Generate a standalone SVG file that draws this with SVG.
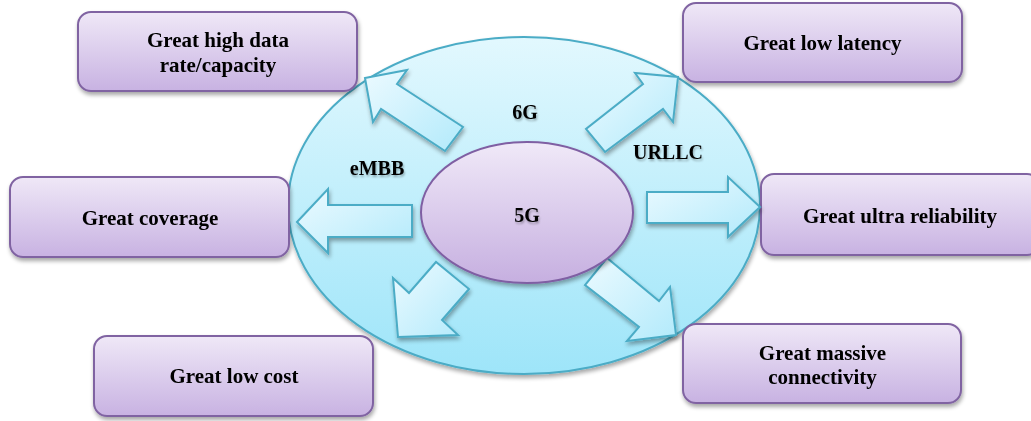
<svg xmlns="http://www.w3.org/2000/svg" width="1031" height="421" viewBox="0 0 1031 421">
<defs>
<linearGradient id="gBox" x1="0" y1="0" x2="0" y2="1">
<stop offset="0" stop-color="#efe8f7"/>
<stop offset="1" stop-color="#c8b2e2"/>
</linearGradient>
<linearGradient id="gBig" x1="0" y1="0" x2="0" y2="1">
<stop offset="0" stop-color="#e2f8fe"/>
<stop offset="1" stop-color="#9ee5f9"/>
</linearGradient>
<linearGradient id="gIn" x1="0" y1="0" x2="0" y2="1">
<stop offset="0" stop-color="#f0e9f8"/>
<stop offset="1" stop-color="#c6afe0"/>
</linearGradient>
<linearGradient id="gArr" x1="0" y1="0" x2="1" y2="1">
<stop offset="0" stop-color="#ecfaff"/>
<stop offset="1" stop-color="#b2eafb"/>
</linearGradient>
<filter id="sh" x="-10%" y="-10%" width="125%" height="135%">
<feGaussianBlur in="SourceAlpha" stdDeviation="2"/>
<feOffset dx="1" dy="3" result="b"/>
<feComponentTransfer><feFuncA type="linear" slope="0.35"/></feComponentTransfer>
<feMerge><feMergeNode/><feMergeNode in="SourceGraphic"/></feMerge>
</filter>
<filter id="tsh" x="-10%" y="-20%" width="130%" height="150%">
<feGaussianBlur in="SourceAlpha" stdDeviation="1"/>
<feOffset dx="1" dy="1.5"/>
<feComponentTransfer><feFuncA type="linear" slope="0.3"/></feComponentTransfer>
<feMerge><feMergeNode/><feMergeNode in="SourceGraphic"/></feMerge>
</filter>
</defs>
<style>
.box{fill:url(#gBox);stroke:#8064a2;stroke-width:2}
.arr{fill:url(#gArr);stroke:#4bacc6;stroke-width:2;stroke-linejoin:miter}
text{font-family:"Liberation Serif","Times New Roman",serif;font-weight:bold;fill:#000;text-anchor:middle}
.bt{font-size:21px}
.lb{font-size:20px}
</style>

<g id="outer-6g">
<ellipse cx="524" cy="205.5" rx="236" ry="168.5" fill="url(#gBig)" stroke="#4bacc6" stroke-width="2" filter="url(#sh)"/>
</g>

<g id="node-high-data-rate" filter="url(#sh)">
<rect class="box" x="78" y="12" width="279" height="79" rx="13"/>
<text class="bt" x="218" y="47">Great high data</text>
<text class="bt" x="218" y="72">rate/capacity</text>
</g>
<g id="node-low-latency" filter="url(#sh)">
<rect class="box" x="683" y="3" width="279" height="79" rx="13"/>
<text class="bt" x="822.5" y="50">Great low latency</text>
</g>
<g id="node-coverage" filter="url(#sh)">
<rect class="box" x="10" y="177" width="279" height="80" rx="13"/>
<text class="bt" x="150" y="225">Great coverage</text>
</g>
<g id="node-ultra-reliability" filter="url(#sh)">
<rect class="box" x="761" y="174" width="279" height="81" rx="13"/>
<text class="bt" x="900" y="223">Great ultra reliability</text>
</g>
<g id="node-low-cost" filter="url(#sh)">
<rect class="box" x="94" y="336" width="279" height="80" rx="13"/>
<text class="bt" x="234" y="383">Great low cost</text>
</g>
<g id="node-massive-connectivity" filter="url(#sh)">
<rect class="box" x="683" y="324" width="278" height="79" rx="13"/>
<text class="bt" x="822.5" y="360">Great massive</text>
<text class="bt" x="822.5" y="384">connectivity</text>
</g>

<g id="connectors" filter="url(#sh)">
<polygon class="arr" points="365,78 407,70 397,84 463,127 445,151 381,109 373,122"/>
<polygon class="arr" points="678,77 673,122 663,109 605,152 586,129 643,84 635,73"/>
<polygon class="arr" points="297,222 328,189 328,205 412,205 412,237 328,237 328,253"/>
<polygon class="arr" points="760,207 728,237 728,223 647,223 647,192 728,192 728,177"/>
<polygon class="arr" points="398,337 393,278 409,293 436,262 469,289 442,320 458,335"/>
<polygon class="arr" points="676,335 627,341 639,327 585,285 607,258 659,301 670,287"/>
</g>

<g id="inner-5g">
<ellipse cx="527" cy="212.5" rx="106" ry="70.5" fill="url(#gIn)" stroke="#7f5fa3" stroke-width="2" filter="url(#sh)"/>
<text class="lb" x="527" y="222" filter="url(#tsh)">5G</text>
</g>

<g id="labels" filter="url(#tsh)">
<text class="lb" x="525" y="119">6G</text>
<text class="lb" x="377" y="175">eMBB</text>
<text class="lb" x="668" y="159">URLLC</text>
</g>
</svg>
